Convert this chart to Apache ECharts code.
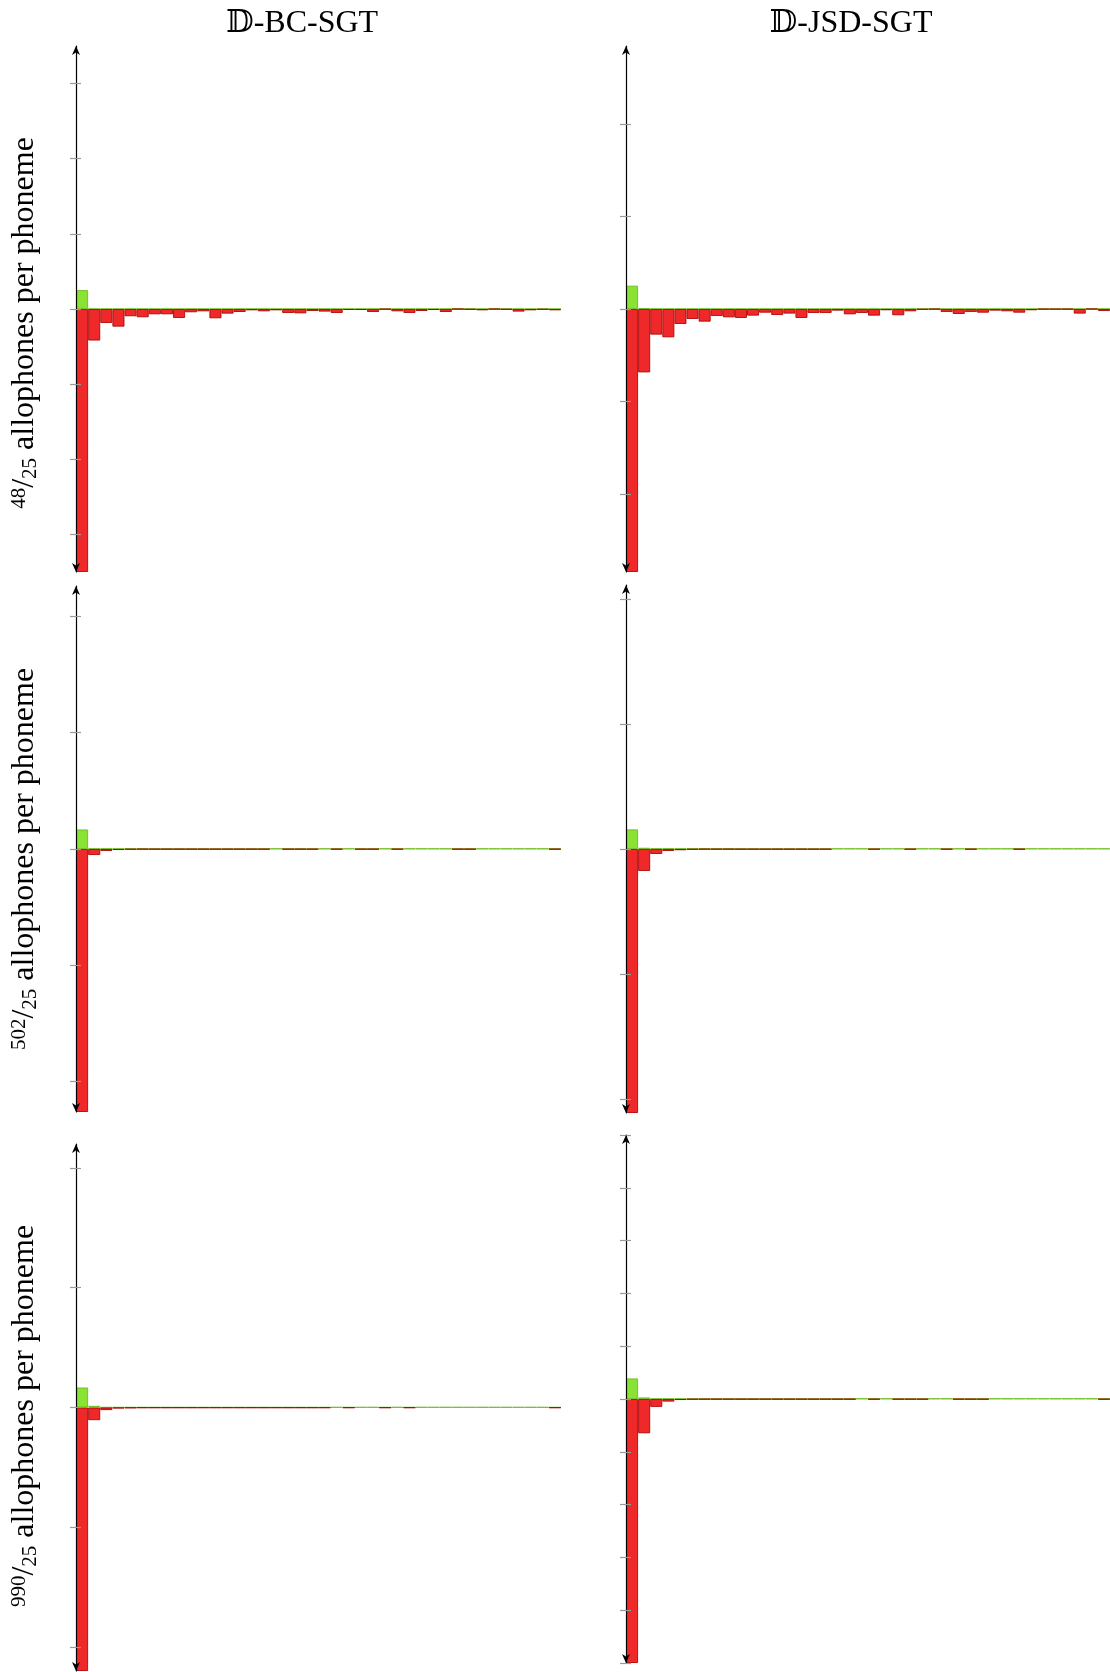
<!DOCTYPE html>
<html><head><meta charset="utf-8">
<script src="https://cdn.jsdelivr.net/npm/echarts@6/dist/echarts.min.js"></script>
<style>html,body{margin:0;padding:0;background:#fff}#c{width:1110px;height:1672px}</style>
</head><body><div id="c"></div>
<script>
// ---- data ----
const categories = ['1','2','3','4','5','6','7','8','9','10','11','12','13','14','15','16','17','18','19','20',
  '21','22','23','24','25','26','27','28','29','30','31','32','33','34','35','36','37','38','39','40'];

const columnTitles = ['𝔻-BC-SGT', '𝔻-JSD-SGT'];
const rowNumerators = ['48', '502', '990'];
const rowDenominator = '25';
const rowLabelText = ' allophones per phoneme';

// y-axis half ranges (axis runs from -lim to +lim)
const limBC48 = 3.5, limJSD48 = 2.84, limBC502 = 2.26, limJSD502 = 2.11, limBC990 = 2.2, limJSD990 = 5;
const ticksBC48 = [-3,-2,-1,0,1,2,3];
const ticksJSD48 = [-2,-1,0,1,2];
const ticksBC502 = [-2,-1,0,1,2];
const ticksJSD502 = [-2,-1,0,1,2];
const ticksBC990 = [-2,-1,0,1,2];
const ticksJSD990 = [-5,-4,-3,-2,-1,0,1,2,3,4,5];

const bcRed48 = [-3.5,-0.42,-0.186,-0.235,-0.097,-0.11,-0.071,-0.071,-0.12,-0.044,-0.031,-0.124,-0.062,-0.04,-0.018,-0.031,-0.018,-0.053,-0.058,-0.027,
  -0.035,-0.053,-0.013,-0.013,-0.04,-0.005,-0.031,-0.053,-0.027,-0.013,-0.04,-0.003,-0.009,-0.018,-0.003,-0.009,-0.035,-0.018,-0.009,-0.018];
const bcGreen48 = [0.252,0.002,0.002,0.002,0.002,0.002,0.002,0.002,0.002,0.002,0.002,0.002,0.002,0.002,0.002,0.002,0.002,0.002,0.002,0.002,
  0.002,0.002,0.002,0.002,0.002,0.002,0.002,0.002,0.002,0.002,0.002,0.005,0.002,0.002,0.005,0.002,0.002,0.002,0.002,0.002];

const jsdRed48 = [-2.84,-0.685,-0.277,-0.306,-0.162,-0.108,-0.137,-0.076,-0.09,-0.097,-0.072,-0.04,-0.065,-0.05,-0.097,-0.043,-0.043,-0.018,-0.058,-0.043,
  -0.072,-0.014,-0.068,-0.025,-0.007,-0.004,-0.032,-0.054,-0.032,-0.04,-0.018,-0.025,-0.04,-0.014,-0.004,-0.004,-0.004,-0.05,-0.002,-0.022];
const jsdGreen48 = [0.252,0.01,0.002,0.002,0.002,0.002,0.002,0.002,0.002,0.002,0.002,0.002,0.002,0.002,0.002,0.002,0.002,0.002,0.002,0.002,
  0.002,0.002,0.002,0.002,0.002,0.004,0.002,0.002,0.002,0.002,0.002,0.002,0.002,0.002,0.002,0.002,0.002,0.002,0.005,0.002];

const bcRed502 = [-2.26,-0.052,-0.017,-0.009,-0.005,-0.003,-0.003,-0.003,-0.003,-0.003,-0.003,-0.003,-0.003,-0.003,-0.003,-0.003,null,-0.003,-0.003,-0.003,
  null,-0.003,null,-0.003,-0.003,null,-0.003,null,null,null,null,-0.003,-0.003,null,null,null,null,null,null,-0.003];
const bcGreen502 = [0.168,0.004,0.004,0.004,0.004,0.004,0.002,0.002,0.002,0.002,0.002,0.002,0.002,0.002,0.002,0.002,0.003,0.002,0.002,0.002,
  0.003,0.002,0.003,0.002,0.002,0.003,0.002,0.003,0.003,0.003,0.003,0.002,0.002,0.003,0.003,0.003,0.003,0.003,0.003,0.002];

const jsdRed502 = [-2.11,-0.176,-0.04,-0.016,-0.01,-0.005,-0.003,-0.003,-0.003,-0.003,-0.003,-0.003,-0.003,-0.003,-0.003,-0.003,-0.003,null,null,null,
  -0.003,null,null,-0.003,null,null,-0.003,null,-0.003,null,null,null,-0.003,null,null,null,null,null,null,null];
const jsdGreen502 = [0.157,0.01,0.004,0.004,0.004,0.004,0.004,0.004,0.004,0.002,0.002,0.002,0.002,0.002,0.002,0.002,0.002,0.003,0.003,0.003,
  0.002,0.003,0.003,0.002,0.003,0.003,0.002,0.003,0.002,0.003,0.003,0.003,0.002,0.003,0.003,0.003,0.003,0.003,0.003,0.003];

const bcRed990 = [-2.2,-0.106,-0.022,-0.008,-0.005,-0.003,-0.003,-0.003,-0.003,-0.003,-0.003,-0.003,-0.003,-0.003,-0.003,-0.003,-0.003,-0.003,-0.003,-0.003,
  -0.003,null,-0.003,null,null,-0.003,null,-0.003,null,null,null,null,null,null,null,null,null,null,null,-0.003];
const bcGreen990 = [0.167,0.014,0.002,0.002,0.002,0.002,0.002,0.002,0.002,0.002,0.002,0.002,0.002,0.002,0.002,0.002,0.002,0.002,0.002,0.002,
  0.002,0.003,0.002,0.003,0.003,0.002,0.003,0.002,0.003,0.003,0.003,0.003,0.003,0.003,0.003,0.003,0.003,0.003,0.003,0.002];

const jsdRed990 = [-5,-0.65,-0.15,-0.05,-0.02,-0.01,-0.008,-0.008,-0.008,-0.008,-0.008,-0.008,-0.008,-0.008,-0.008,-0.008,-0.008,-0.008,-0.008,null,
  -0.008,null,-0.008,-0.008,-0.008,null,null,-0.008,-0.008,-0.008,null,null,null,null,null,null,null,null,null,-0.008];
const jsdGreen990 = [0.39,0.03,0.005,0.005,0.005,0.005,0.005,0.005,0.005,0.005,0.005,0.005,0.005,0.005,0.005,0.005,0.005,0.005,0.005,0.008,
  0.005,0.008,0.005,0.005,0.005,0.008,0.008,0.005,0.005,0.005,0.008,0.008,0.008,0.008,0.008,0.008,0.008,0.008,0.008,0.005];

// ---- layout / style ----
const panels = [
  {grid:{left:76, top:46,   width:485, height:526}, lim:limBC48,   ticks:ticksBC48,   red:bcRed48,   green:bcGreen48},
  {grid:{left:626,top:46,   width:485, height:526}, lim:limJSD48,  ticks:ticksJSD48,  red:jsdRed48,  green:jsdGreen48},
  {grid:{left:76, top:586,  width:485, height:526}, lim:limBC502,  ticks:ticksBC502,  red:bcRed502,  green:bcGreen502},
  {grid:{left:626,top:585,  width:485, height:528}, lim:limJSD502, ticks:ticksJSD502, red:jsdRed502, green:jsdGreen502},
  {grid:{left:76, top:1144, width:485, height:527}, lim:limBC990,  ticks:ticksBC990,  red:bcRed990,  green:bcGreen990},
  {grid:{left:626,top:1135, width:485, height:528}, lim:limJSD990, ticks:ticksJSD990, red:jsdRed990, green:jsdGreen990}
];
const arrow = 'path://M5,0 L10,11 L5,8 L0,11 Z';
const serif = '"Liberation Serif","DejaVu Serif","DejaVu Sans",serif';
const tickStyle = {color:'#9a9a9a', width:1.2};

const grids = [], xAxes = [], yAxes = [], series = [];
panels.forEach((p, i) => {
  grids.push(p.grid);
  xAxes.push({gridIndex:i, type:'category', data:categories, show:false, boundaryGap:true});
  yAxes.push({gridIndex:i, type:'value', position:'left', offset:0, min:-p.lim, max:p.lim, z:5,
    axisLine:{show:true, onZero:false, lineStyle:{color:'#000', width:1.2},
      symbol:[arrow, arrow], symbolSize:[8,9], symbolOffset:[4.5,-4.5]},
    axisTick:{show:true, customValues:p.ticks, length:6, lineStyle:tickStyle},
    axisLabel:{show:false}, splitLine:{show:false}});
  yAxes.push({gridIndex:i, type:'value', position:'left', offset:0, min:-p.lim, max:p.lim, z:5,
    axisLine:{show:false, onZero:false},
    axisTick:{show:true, inside:true, customValues:p.ticks, length:5, lineStyle:tickStyle},
    axisLabel:{show:false}, splitLine:{show:false}});
  series.push({type:'bar', xAxisIndex:i, yAxisIndex:2*i, data:p.green, barGap:'-100%', barCategoryGap:'0%',
    silent:true, itemStyle:{color:'#8ae234', borderColor:'rgba(110,190,30,0.9)', borderWidth:1}});
  series.push({type:'bar', xAxisIndex:i, yAxisIndex:2*i, data:p.red, barGap:'-100%', barCategoryGap:'0%',
    silent:true, itemStyle:{color:'#ef2929', borderColor:'rgba(170,0,0,0.85)', borderWidth:1}});
});

const graphics = [
  {type:'text', x:302, y:24, style:{text:columnTitles[0], font:'32px ' + serif, fill:'#000', align:'center', verticalAlign:'middle'}},
  {type:'text', x:851, y:24, style:{text:columnTitles[1], font:'32px ' + serif, fill:'#000', align:'center', verticalAlign:'middle'}}
];
const rowCenters = [323, 859, 1416];
rowNumerators.forEach((n, r) => {
  graphics.push({type:'text', x:25, y:rowCenters[r], rotation:Math.PI/2,
    style:{text:'{n|' + n + '}{s|/}{d|' + rowDenominator + '}' + rowLabelText,
      fontSize:32, fontFamily:serif, fill:'#000', align:'center', verticalAlign:'middle',
      rich:{n:{fontSize:21, fontFamily:serif, verticalAlign:'top', fill:'#000'},
            s:{fontSize:32, fontFamily:serif, fill:'#000'},
            d:{fontSize:21, fontFamily:serif, verticalAlign:'bottom', fill:'#000'}}}});
});

const chart = echarts.init(document.getElementById('c'), null, {renderer:'canvas'});
chart.setOption({
  animation:false,
  backgroundColor:'#fff',
  grid:grids, xAxis:xAxes, yAxis:yAxes, series:series,
  graphic:graphics
});
</script></body></html>
